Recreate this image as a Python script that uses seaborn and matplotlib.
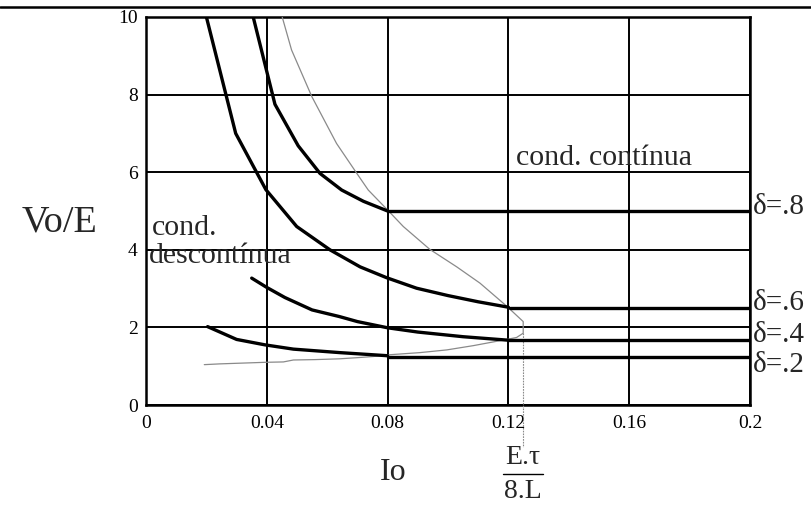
import matplotlib
matplotlib.use("Agg")
import matplotlib.pyplot as plt
from matplotlib.lines import Line2D
import matplotlib.transforms as mtransforms
import numpy as np
import pandas as pd
import seaborn as sns

# Discontinuous-conduction curves (Io, Vo/E) for each duty cycle
io_d08 = [0.0355, 0.0427, 0.0504, 0.0576, 0.0648, 0.0720, 0.0800]
vo_d08 = [10.0, 7.75, 6.68, 5.97, 5.54, 5.25, 5.00]

io_d06 = [0.0200, 0.0297, 0.0397, 0.0499, 0.0609, 0.0709, 0.0797, 0.0896, 0.1000, 0.1100, 0.1200]
vo_d06 = [10.0, 7.00, 5.55, 4.60, 4.00, 3.56, 3.28, 3.01, 2.82, 2.66, 2.52]

io_d04 = [0.0350, 0.0400, 0.0460, 0.0550, 0.0640, 0.0700, 0.0800, 0.0900, 0.1050, 0.1150, 0.1200]
vo_d04 = [3.27, 3.03, 2.77, 2.45, 2.28, 2.15, 1.99, 1.88, 1.76, 1.70, 1.67]

io_d02 = [0.0204, 0.0300, 0.0394, 0.0488, 0.0642, 0.0800]
vo_d02 = [2.02, 1.69, 1.55, 1.44, 1.35, 1.27]

# Continuous-conduction levels (Vo/E = 1/(1-delta)) and where they begin
delta_labels = ["δ=.8", "δ=.6", "δ=.4", "δ=.2"]
cont_level = [5.0, 2.5, 1.667, 1.25]
cont_start = [0.080, 0.1205, 0.120, 0.080]
cont_end = 0.2
label_y = [5.1, 2.62, 1.8, 1.02]

# Boundary between the two conduction modes
io_limit = [0.0451, 0.0482, 0.0549, 0.0631, 0.0698, 0.0736, 0.0797, 0.0852, 0.0940,
            0.1029, 0.1106, 0.1194, 0.1249, 0.1249, 0.1227, 0.1194, 0.1084, 0.0996,
            0.0907, 0.0797, 0.0753, 0.0700, 0.0640, 0.0560, 0.0488, 0.0455, 0.0394,
            0.0245, 0.0193]
vo_limit = [10.0, 9.15, 7.95, 6.74, 5.97, 5.54, 5.05, 4.60, 4.01,
            3.56, 3.14, 2.55, 2.15, 1.85, 1.74, 1.69, 1.53, 1.42,
            1.35, 1.29, 1.25, 1.22, 1.19, 1.17, 1.16, 1.11, 1.10,
            1.06, 1.04]
io_max = 0.125

x_ticks = [0, 0.04, 0.08, 0.12, 0.16, 0.2]
x_tick_labels = ["0", "0.04", "0.08", "0.12", "0.16", "0.2"]
y_ticks = [0, 2, 4, 6, 8, 10]

sns.set_theme(style="white")
plt.rcParams["font.family"] = ["Liberation Serif", "DejaVu Serif"]

fig = plt.figure(figsize=(8.12, 5.08), dpi=100)
W, H = 812, 508
ax = fig.add_axes([146 / W, 1 - 405 / H, (750 - 146) / W, (405 - 17) / H])

black = "black"
curve_lw = 2.4

curves = [(io_d08, vo_d08), (io_d06, vo_d06), (io_d04, vo_d04), (io_d02, vo_d02)]
for (xs, ys) in curves:
    df = pd.DataFrame({"Io": xs, "Vo": ys})
    sns.lineplot(data=df, x="Io", y="Vo", ax=ax, color=black, lw=curve_lw,
                 sort=False, estimator=None, zorder=4)

for lvl, x0 in zip(cont_level, cont_start):
    df = pd.DataFrame({"Io": [x0, cont_end], "Vo": [lvl, lvl]})
    sns.lineplot(data=df, x="Io", y="Vo", ax=ax, color=black, lw=curve_lw,
                 estimator=None, zorder=4)

df_lim = pd.DataFrame({"Io": io_limit, "Vo": vo_limit})
sns.lineplot(data=df_lim, x="Io", y="Vo", ax=ax, color="#8a8a8a", lw=0.9,
             sort=False, estimator=None, zorder=3)

# dotted drop from the curve's maximum down past the axis
ax.plot([io_max, io_max], [vo_limit[13], -1.08], color="#8a8a8a", lw=0.8,
        ls=(0, (1.5, 1.0)), clip_on=False, zorder=3)

ax.set_xlim(0, 0.2)
ax.set_ylim(0, 10)
ax.set_xticks(x_ticks)
ax.set_xticklabels(x_tick_labels)
ax.set_yticks(y_ticks)
ax.set_yticklabels([str(v) for v in y_ticks])
ax.tick_params(axis="both", length=0, labelsize=14, colors=black)
ax.tick_params(axis="x", pad=7)
ax.tick_params(axis="y", pad=6)
ax.set_xlabel("")
ax.set_ylabel("")
ax.grid(True, color=black, lw=1.4)
ax.set_axisbelow(True)
for s in ax.spines.values():
    s.set_color(black)
    s.set_linewidth(1.8)

# region annotations
ax.text(0.1225, 6.19, "cond. contínua", fontsize=21.5, ha="left", va="baseline", zorder=5)
ax.text(0.0019, 4.38, "cond.", fontsize=21.5, ha="left", va="baseline", zorder=5)
ax.text(0.0010, 3.66, "descontínua", fontsize=21.5, ha="left", va="baseline", zorder=5)

trans = mtransforms.blended_transform_factory(ax.transAxes, ax.transData)
for lab, yv in zip(delta_labels, label_y):
    ax.text(1.005, yv, lab, transform=trans, fontsize=21, ha="left", va="center",
            clip_on=False)

fig.text(60 / W, 1 - 222 / H, "Vo/E", fontsize=27.5, ha="center", va="center")
fig.text(393 / W, 1 - 473 / H, "Io", fontsize=23, ha="center", va="center")
fig.text(523 / W, 1 - 458 / H, "E.τ", fontsize=20, ha="center", va="center")
fig.text(523 / W, 1 - 491 / H, "8.L", fontsize=20, ha="center", va="center")
fig.add_artist(Line2D([503 / W, 543 / W], [1 - 474 / H, 1 - 474 / H],
                      color=black, lw=1.0, transform=fig.transFigure))

# rule across the top of the page
fig.add_artist(Line2D([0, 1], [1 - 7 / H, 1 - 7 / H], color=black, lw=1.8,
                      transform=fig.transFigure))

fig.savefig("out.png", dpi=100)
